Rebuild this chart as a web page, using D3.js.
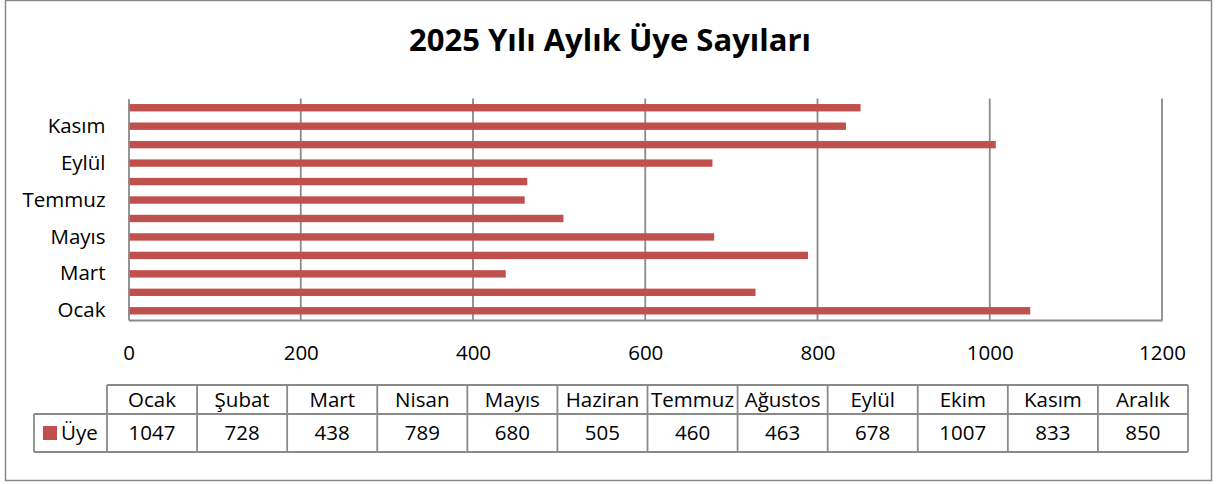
<!DOCTYPE html>
<html lang="tr">
<head>
<meta charset="utf-8">
<script src="https://cdn.jsdelivr.net/npm/d3@7"></script>
<style>
  html, body { margin: 0; padding: 0; background: #fff; }
  svg { display: block; font-family: "Open Sans", sans-serif; }
</style>
</head>
<body>
<svg id="chart" width="1216" height="484"></svg>
<script>
// Monthly member counts for 2025
const months = ["Ocak", "Şubat", "Mart", "Nisan", "Mayıs", "Haziran",
                "Temmuz", "Ağustos", "Eylül", "Ekim", "Kasım", "Aralık"];
const members = [1047, 728, 438, 789, 680, 505, 460, 463, 678, 1007, 833, 850];
const xTicks = [0, 200, 400, 600, 800, 1000, 1200];
const seriesName = "Üye";
const title = "2025 Yılı Aylık Üye Sayıları";

const data = months.map((m, i) => ({ month: m, value: members[i] }));

const barColor = "#C0504D";
const lineColor = "#8a8a8a";
const fontSize = 20.5;

const svg = d3.select("#chart");

// Chart frame
svg.append("rect")
  .attr("x", 5.5).attr("y", 0.5)
  .attr("width", 1206).attr("height", 480)
  .attr("fill", "#fff")
  .attr("stroke", lineColor).attr("stroke-width", 1.5);

// Title
svg.append("text")
  .attr("x", 610).attr("y", 51)
  .attr("text-anchor", "middle")
  .attr("font-size", 31).attr("font-weight", 700)
  .attr("fill", "#000")
  .text(title);

// Scales
const x = d3.scaleLinear().domain([0, 1200]).range([128.5, 1162]);
const y = d3.scaleBand().domain(months).range([320, 98.5])
  .paddingInner(0.6).paddingOuter(0.3);

// Vertical gridlines
svg.append("g")
  .selectAll("line")
  .data(xTicks.filter(d => d > 0))
  .join("line")
  .attr("x1", d => x(d)).attr("x2", d => x(d))
  .attr("y1", 98.5).attr("y2", 320)
  .attr("stroke", lineColor).attr("stroke-width", 1.8);

// Bars
svg.append("g")
  .selectAll("rect")
  .data(data)
  .join("rect")
  .attr("x", x(0))
  .attr("y", d => y(d.month))
  .attr("width", d => x(d.value) - x(0))
  .attr("height", y.bandwidth())
  .attr("fill", barColor);

// X axis
const xAxis = svg.append("g")
  .attr("transform", "translate(0,320)")
  .call(d3.axisBottom(x).tickValues(xTicks).tickFormat(d3.format("d"))
    .tickSize(0).tickPadding(25).tickSizeOuter(0));
xAxis.select(".domain").attr("stroke", lineColor).attr("stroke-width", 1.8);
xAxis.selectAll("text").attr("font-size", fontSize).attr("font-family", "Open Sans").attr("fill", "#000");

// Y axis (every second month labelled)
const yAxis = svg.append("g")
  .attr("transform", `translate(${x(0)},0)`)
  .call(d3.axisLeft(y).tickSize(0).tickSizeOuter(0).tickPadding(23)
    .tickFormat((d, i) => i % 2 === 0 ? d : ""));
yAxis.select(".domain").attr("stroke", lineColor).attr("stroke-width", 1.8);
yAxis.selectAll("text").attr("font-size", fontSize).attr("font-family", "Open Sans").attr("fill", "#000");

// Data table below the plot
const col = d3.scaleBand().domain(months).range([107, 1188]);
const rowTop = 385, rowMid = 414, rowBot = 452, legendLeft = 34;
const table = svg.append("g").attr("font-size", fontSize).attr("fill", "#000");

// Grid of the table
const tableLines = [
  [col.range()[0], rowTop, col.range()[1], rowTop],
  [legendLeft, rowMid, col.range()[1], rowMid],
  [legendLeft, rowBot, col.range()[1], rowBot],
  [legendLeft, rowMid, legendLeft, rowBot]
];
months.forEach(m => tableLines.push([col(m), rowTop, col(m), rowBot]));
tableLines.push([col.range()[1], rowTop, col.range()[1], rowBot]);
table.selectAll("line")
  .data(tableLines)
  .join("line")
  .attr("x1", d => d[0]).attr("y1", d => d[1])
  .attr("x2", d => d[2]).attr("y2", d => d[3])
  .attr("stroke", lineColor).attr("stroke-width", 1.8);

// Month headers
table.selectAll("text.head")
  .data(months)
  .join("text")
  .attr("class", "head")
  .attr("x", d => col(d) + col.bandwidth() / 2)
  .attr("y", (rowTop + rowMid) / 2)
  .attr("dy", "0.36em")
  .attr("text-anchor", "middle")
  .text(d => d);

// Values
table.selectAll("text.val")
  .data(data)
  .join("text")
  .attr("class", "val")
  .attr("x", d => col(d.month) + col.bandwidth() / 2)
  .attr("y", (rowMid + rowBot) / 2)
  .attr("dy", "0.36em")
  .attr("text-anchor", "middle")
  .text(d => d.value);

// Legend key
table.append("rect")
  .attr("x", 43).attr("y", 426).attr("width", 14).attr("height", 14)
  .attr("fill", barColor);
table.append("text")
  .attr("x", 61).attr("y", (rowMid + rowBot) / 2).attr("dy", "0.36em")
  .text(seriesName);
</script>
</body>
</html>
